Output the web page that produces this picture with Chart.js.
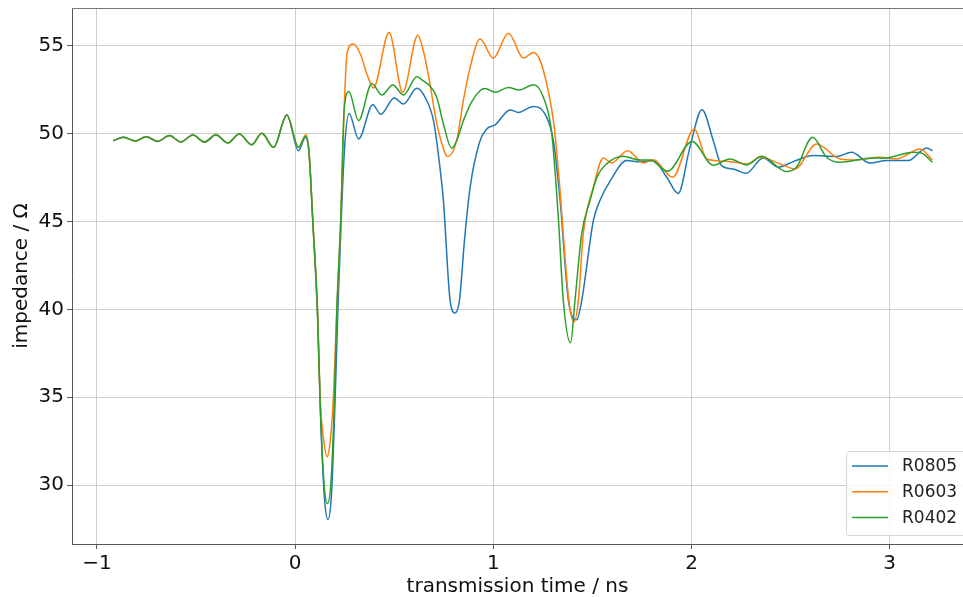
<!DOCTYPE html>
<html>
<head>
<meta charset="utf-8">
<script src="https://cdn.jsdelivr.net/npm/chart.js@4.4.1/dist/chart.umd.min.js"></script>
<style>
  html, body { margin: 0; padding: 0; background: #fff; }
  #wrap { width: 963px; height: 597px; }
</style>
</head>
<body>
<div id="wrap"><canvas id="tdrChart" width="963" height="597"></canvas></div>
<script>
// TDR traces (time in ns, impedance in ohm)
const seriesNames = ['R0805', 'R0603', 'R0402'];
const seriesColors = ['#1f77b4', '#ff7f0e', '#2ca02c'];

const xTicks = [-1, 0, 1, 2, 3];
const yTicks = [30, 35, 40, 45, 50, 55];

// shared ripple before the launch
const leadT = [-0.918, -0.866, -0.807, -0.752, -0.694, -0.634, -0.577, -0.516, -0.457, -0.400, -0.340, -0.282, -0.220, -0.168, -0.109, -0.042];
const leadZ = [49.60, 49.79, 49.58, 49.83, 49.56, 49.89, 49.53, 49.92, 49.52, 49.94, 49.47, 49.98, 49.37, 50.02, 49.22, 51.06];

const r0805T = [0.017, 0.052, 0.070, 0.089, 0.113, 0.128, 0.147, 0.165, 0.183, 0.202, 0.215, 0.232, 0.250, 0.272, 0.320, 0.392, 0.432, 0.500, 0.547, 0.614, 0.656, 0.698, 0.725, 0.748, 0.782, 0.807, 0.829, 0.855, 0.883, 0.930, 0.967, 1.009, 1.085, 1.127, 1.202, 1.265, 1.303, 1.337, 1.379, 1.421, 1.446, 1.505, 1.538, 1.589, 1.673, 1.740, 1.807, 1.875, 1.933, 1.992, 2.053, 2.110, 2.152, 2.211, 2.275, 2.362, 2.438, 2.513, 2.614, 2.732, 2.808, 2.900, 2.985, 3.094, 3.186, 3.216];
const r0805Z = [49.03, 49.80, 49.0, 45.0, 39.6, 34.0, 29.4, 28.05, 29.4, 35.0, 39.8, 45.0, 49.3, 51.15, 49.70, 51.65, 51.10, 52.03, 51.69, 52.58, 52.06, 50.74, 48.6, 46.2, 40.5, 39.80, 40.5, 44.0, 46.95, 49.5, 50.27, 50.50, 51.35, 51.21, 51.55, 51.02, 49.6, 46.2, 40.5, 39.41, 40.5, 45.06, 46.2, 47.3, 48.47, 48.40, 48.47, 47.52, 46.60, 49.22, 51.36, 49.60, 48.18, 47.99, 47.74, 48.62, 48.09, 48.41, 48.75, 48.70, 48.94, 48.33, 48.47, 48.47, 49.19, 49.03];

const r0603T = [0.017, 0.055, 0.070, 0.089, 0.113, 0.126, 0.146, 0.161, 0.176, 0.193, 0.210, 0.230, 0.247, 0.262, 0.294, 0.330, 0.362, 0.395, 0.474, 0.543, 0.619, 0.647, 0.681, 0.706, 0.731, 0.770, 0.815, 0.849, 0.883, 0.933, 1.000, 1.076, 1.152, 1.202, 1.235, 1.270, 1.305, 1.335, 1.355, 1.380, 1.407, 1.429, 1.454, 1.505, 1.555, 1.597, 1.678, 1.757, 1.807, 1.905, 2.014, 2.077, 2.179, 2.278, 2.350, 2.446, 2.522, 2.631, 2.749, 2.833, 2.951, 3.035, 3.153, 3.216];
const r0603Z = [49.22, 49.95, 48.9, 45.06, 39.9, 35.0, 32.4, 31.61, 32.4, 35.0, 39.9, 45.06, 51.3, 54.6, 55.10, 54.5, 53.4, 52.60, 55.76, 52.35, 55.60, 54.7, 52.8, 51.1, 49.8, 48.70, 49.6, 51.9, 53.77, 55.38, 54.30, 55.72, 54.30, 54.62, 54.2, 52.8, 50.6, 47.0, 44.0, 40.6, 39.28, 40.5, 44.3, 46.95, 48.62, 48.33, 49.03, 48.33, 48.52, 47.52, 50.27, 48.56, 48.43, 48.28, 48.66, 48.28, 47.99, 49.41, 48.56, 48.50, 48.66, 48.56, 49.13, 48.50];

const r0402T = [0.017, 0.052, 0.070, 0.089, 0.113, 0.126, 0.145, 0.163, 0.181, 0.198, 0.210, 0.230, 0.247, 0.271, 0.320, 0.387, 0.437, 0.493, 0.547, 0.614, 0.647, 0.681, 0.715, 0.748, 0.790, 0.815, 0.849, 0.890, 0.933, 0.958, 1.009, 1.076, 1.130, 1.202, 1.253, 1.295, 1.328, 1.353, 1.390, 1.412, 1.446, 1.488, 1.522, 1.572, 1.656, 1.740, 1.790, 1.879, 2.003, 2.110, 2.194, 2.278, 2.354, 2.480, 2.530, 2.611, 2.682, 2.749, 2.917, 2.968, 3.119, 3.160, 3.216];
const r0402Z = [49.22, 49.85, 48.9, 45.06, 39.9, 34.8, 30.2, 28.96, 30.2, 34.8, 39.9, 45.06, 51.3, 52.40, 50.74, 52.86, 52.20, 52.77, 52.20, 53.24, 53.0, 52.70, 52.06, 50.55, 49.17, 49.60, 50.74, 51.8, 52.44, 52.57, 52.35, 52.63, 52.48, 52.78, 52.06, 50.0, 45.24, 40.5, 38.10, 40.5, 44.3, 46.2, 47.5, 48.28, 48.71, 48.50, 48.50, 47.86, 49.56, 48.20, 48.56, 48.22, 48.71, 47.84, 48.10, 49.79, 48.66, 48.37, 48.62, 48.60, 48.94, 48.90, 48.37];

const traceT = [r0805T, r0603T, r0402T];
const traceZ = [r0805Z, r0603Z, r0402Z];

function toPoints(t, z) {
  const ts = leadT.concat(t);
  const zs = leadZ.concat(z);
  return ts.map((v, i) => ({ x: v, y: zs[i] }));
}

const tickFont = { family: 'DejaVu Sans', size: 20 };

// matplotlib-like legend drawn inside the plot area, bottom right
const innerLegend = {
  id: 'innerLegend',
  afterDraw(chart) {
    const ctx = chart.ctx;
    const left = 846.5, top = 451.5, w = 130, h = 84;
    ctx.save();
    ctx.beginPath();
    ctx.roundRect(left, top, w, h, 3);
    ctx.fillStyle = 'rgba(255,255,255,0.8)';
    ctx.fill();
    ctx.strokeStyle = '#d6d6d6';
    ctx.lineWidth = 1;
    ctx.stroke();
    ctx.font = '17px "DejaVu Sans"';
    ctx.textBaseline = 'middle';
    chart.data.datasets.forEach((ds, i) => {
      const y = 466 + i * 25.8;
      ctx.beginPath();
      ctx.moveTo(852, y);
      ctx.lineTo(888, y);
      ctx.strokeStyle = ds.borderColor;
      ctx.lineWidth = 1.5;
      ctx.stroke();
      ctx.fillStyle = '#222';
      ctx.fillText(ds.label, 902, y + 1);
    });
    ctx.restore();
  }
};

// top spine
const frameTop = {
  id: 'frameTop',
  afterDatasetsDraw(chart) {
    const a = chart.chartArea;
    const ctx = chart.ctx;
    ctx.save();
    ctx.strokeStyle = '#777';
    ctx.lineWidth = 1;
    ctx.beginPath();
    ctx.moveTo(a.left, a.top + 0.5);
    ctx.lineTo(a.right, a.top + 0.5);
    ctx.stroke();
    ctx.restore();
  }
};

new Chart(document.getElementById('tdrChart'), {
  type: 'line',
  data: {
    datasets: seriesNames.map((name, i) => ({
      label: name,
      data: toPoints(traceT[i], traceZ[i]),
      borderColor: seriesColors[i],
      backgroundColor: seriesColors[i],
      borderWidth: 1.5,
      pointRadius: 0,
      cubicInterpolationMode: 'monotone',
      fill: false,
      // later series on top, like the reference
      order: seriesNames.length - i
    }))
  },
  options: {
    responsive: false,
    animation: false,
    layout: { padding: { top: 8, right: 0, left: 0, bottom: 0 } },
    plugins: {
      legend: { display: false },
      tooltip: { enabled: false }
    },
    scales: {
      x: {
        type: 'linear',
        min: -1.126,
        max: 3.37,
        afterBuildTicks: s => { s.ticks = xTicks.map(v => ({ value: v })); },
        afterFit: s => { s.height = 53; s.paddingLeft = 0; s.paddingRight = 0; },
        ticks: {
          font: tickFont,
          color: '#111',
          padding: 3,
          maxRotation: 0,
          callback: v => (v < 0 ? '\u2212' + Math.abs(v) : String(v))
        },
        grid: { color: '#cfcfcf', lineWidth: 1, tickLength: 5, tickColor: '#555' },
        border: { color: '#555', width: 1 },
        title: {
          display: true,
          text: 'transmission time / ns',
          font: tickFont,
          color: '#111',
          padding: { top: 0, bottom: -2 }
        }
      },
      y: {
        type: 'linear',
        min: 26.65,
        max: 57.15,
        afterBuildTicks: s => { s.ticks = yTicks.map(v => ({ value: v })); },
        afterFit: s => { s.width = 72; s.paddingTop = 0; s.paddingBottom = 0; },
        ticks: { font: tickFont, color: '#111', padding: 3 },
        grid: { color: '#cfcfcf', lineWidth: 1, tickLength: 5, tickColor: '#555' },
        border: { color: '#555', width: 1 },
        title: {
          display: true,
          text: 'impedance / \u03a9',
          font: tickFont,
          color: '#111',
          padding: { top: 10, bottom: 0 }
        }
      }
    }
  },
  plugins: [innerLegend, frameTop]
});
</script>
</body>
</html>
